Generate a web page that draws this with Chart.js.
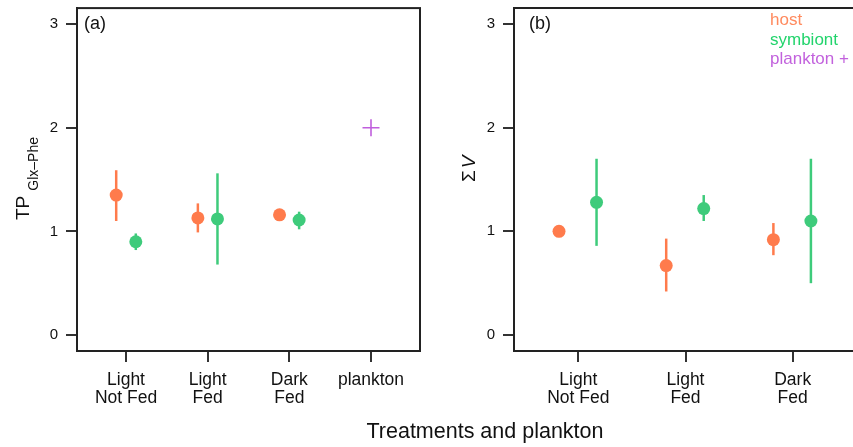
<!DOCTYPE html>
<html>
<head>
<meta charset="utf-8">
<script src="https://cdn.jsdelivr.net/npm/chart.js@4"></script>
<style>
    html, body { margin: 0; padding: 0; overflow: hidden; background: #fff; }
    #wrap { position: relative; width: 853px; height: 447px; overflow: hidden; }
    canvas { position: absolute; top: 0; }
    #xtitle {
        position: absolute; left: 0; width: 970px; top: 419px;
        text-align: center; font: 21.5px "Liberation Sans", Arial, sans-serif; color: #111;
    }
</style>
</head>
<body>
<div id="wrap">
    <canvas id="chartA" width="440" height="449" style="left:0; top:-2px"></canvas>
    <canvas id="chartB" width="440" height="447" style="left:440px"></canvas>
    <div id="xtitle">Treatments and plankton</div>
</div>
<script>
// categories
const labelsA = [['Light', 'Not Fed'], ['Light', 'Fed'], ['Dark', 'Fed'], 'plankton'];
const labelsB = [['Light', 'Not Fed'], ['Light', 'Fed'], ['Dark', 'Fed']];
const yTicks = [0, 1, 2, 3];

// panel (a): trophic position
const hostA = [1.35, 1.13, 1.16];
const hostALo = [1.10, 0.99, 1.12];
const hostAHi = [1.59, 1.27, 1.20];
const symA = [0.90, 1.12, 1.11];
const symALo = [0.82, 0.68, 1.02];
const symAHi = [0.98, 1.56, 1.19];
const planktonA = [2.0];

// panel (b): sum V
const hostB = [1.00, 0.67, 0.92];
const hostBLo = [1.00, 0.42, 0.77];
const hostBHi = [1.00, 0.93, 1.08];
const symB = [1.28, 1.22, 1.10];
const symBLo = [0.86, 1.10, 0.50];
const symBHi = [1.70, 1.35, 1.70];

const hostColor = '#ff7b4c';
const symColor = '#3ecb7b';
const plankColor = '#c05fdd';
const FONT = '"Liberation Sans", Arial, sans-serif';

function points(vals, offset) {
    return vals.map((v, i) => ({ x: i + 1 + offset, y: v }));
}

// error bars + frame + extra text
const extrasPlugin = {
    id: 'extras',
    beforeDatasetsDraw(chart) {
        const ctx = chart.ctx;
        const xs = chart.scales.x, ys = chart.scales.y;
        chart.data.datasets.forEach(ds => {
            if (!ds.errLo) return;
            ctx.save();
            ctx.strokeStyle = ds.backgroundColor;
            ctx.lineWidth = 2.5;
            ds.data.forEach((p, i) => {
                const x = xs.getPixelForValue(p.x);
                ctx.beginPath();
                ctx.moveTo(x, ys.getPixelForValue(ds.errLo[i]));
                ctx.lineTo(x, ys.getPixelForValue(ds.errHi[i]));
                ctx.stroke();
            });
            ctx.restore();
        });
    },
    afterDraw(chart, args, opts) {
        const ctx = chart.ctx;
        const a = chart.chartArea;
        ctx.save();
        ctx.strokeStyle = '#222';
        ctx.lineWidth = 2;
        ctx.strokeRect(a.left, a.top, a.right - a.left, a.bottom - a.top);

        ctx.fillStyle = '#111';
        ctx.font = '18px ' + FONT;
        ctx.textBaseline = 'middle';
        ctx.textAlign = 'left';
        ctx.fillText(opts.panel, a.left + opts.panelDx, a.top + 16);

        // y title
        ctx.save();
        ctx.translate(opts.titleX, opts.titleY);
        ctx.rotate(-Math.PI / 2);
        ctx.textBaseline = 'alphabetic';
        if (opts.panel === '(a)') {
            ctx.font = '19px ' + FONT;
            ctx.fillText('TP', 0, 0);
            const w = ctx.measureText('TP').width;
            ctx.font = '14px ' + FONT;
            ctx.fillText('Glx\u2013Phe', w + 5, 9);
        } else {
            ctx.font = '19px ' + FONT;
            ctx.fillText('\u03A3', 0, 0);
            const w = ctx.measureText('\u03A3').width;
            ctx.font = 'italic 19px ' + FONT;
            ctx.fillText('V', w + 2, 0);
        }
        ctx.restore();

        if (opts.legend) {
            ctx.font = '17px ' + FONT;
            ctx.textBaseline = 'middle';
            ctx.fillStyle = '#ff8a5e';
            ctx.fillText('host', 770 - 440, 20);
            ctx.fillStyle = '#22d46c';
            ctx.fillText('symbiont', 770 - 440, 40);
            ctx.fillStyle = '#c262dd';
            ctx.fillText('plankton +', 770 - 440, 59);
        }
        ctx.restore();
    }
};

function makeChart(id, datasets, labels, xmin, xmax, yWidth, padRight, padTop, extraOpts) {
    return new Chart(document.getElementById(id), {
        type: 'scatter',
        data: { datasets: datasets },
        plugins: [extrasPlugin],
        options: {
            responsive: false,
            animation: false,
            events: [],
            layout: { padding: { left: 0, top: padTop, right: padRight, bottom: 0 } },
            plugins: {
                legend: { display: false },
                tooltip: { enabled: false },
                extras: extraOpts
            },
            scales: {
                x: {
                    type: 'linear',
                    min: xmin,
                    max: xmax,
                    afterBuildTicks: s => { s.ticks = labels.map((l, i) => ({ value: i + 1 })); },
                    afterFit: s => { s.height = 96; s.paddingLeft = 0; s.paddingRight = 0; },
                    grid: { drawOnChartArea: false, drawTicks: true, tickLength: 11, color: '#333', lineWidth: 2 },
                    border: { display: true, color: '#222', width: 2 },
                    ticks: {
                        maxRotation: 0,
                        autoSkip: false,
                        padding: 9,
                        color: '#111',
                        font: { family: FONT, size: 17.5, lineHeight: 1.03 },
                        callback: v => labels[Math.round(v) - 1]
                    }
                },
                y: {
                    min: -0.154,
                    max: 3.154,
                    afterBuildTicks: s => { s.ticks = yTicks.map(v => ({ value: v })); },
                    afterFit: s => { s.width = yWidth; s.paddingTop = 0; s.paddingBottom = 0; },
                    grid: { drawOnChartArea: false, drawTicks: true, tickLength: 11, color: '#333', lineWidth: 2 },
                    border: { display: true, color: '#222', width: 2 },
                    ticks: {
                        padding: 8,
                        color: '#111',
                        font: { family: FONT, size: 15 }
                    }
                }
            }
        }
    });
}

const dot = { pointRadius: 6.5, pointBorderWidth: 0, showLine: false };

makeChart('chartA', [
    { ...dot, data: points(hostA, -0.12), backgroundColor: hostColor, errLo: hostALo, errHi: hostAHi },
    { ...dot, data: points(symA, 0.12), backgroundColor: symColor, errLo: symALo, errHi: symAHi },
    { data: [{ x: 4, y: planktonA[0] }], pointStyle: 'cross', pointRadius: 8.5, pointBorderWidth: 1.6,
      borderColor: plankColor, backgroundColor: plankColor, showLine: false }
], labelsA, 0.4, 4.6, 77, 20, 8, { panel: '(a)', panelDx: 7, titleX: 29, titleY: 222 });

makeChart('chartB', [
    { ...dot, data: points(hostB, -0.18), backgroundColor: hostColor, errLo: hostBLo, errHi: hostBHi },
    { ...dot, data: points(symB, 0.17), backgroundColor: symColor, errLo: symBLo, errHi: symBHi }
], labelsB, 0.4, 3.6, 74, 23, 8, { panel: '(b)', panelDx: 15, titleX: 475 - 440, titleY: 182, legend: true });
</script>
</body>
</html>
